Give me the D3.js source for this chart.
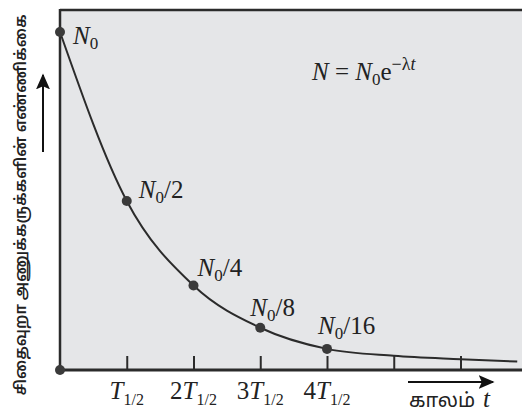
<!DOCTYPE html>
<html><head><meta charset="utf-8">
<script src="https://cdn.jsdelivr.net/npm/d3@7/dist/d3.min.js"></script>
<style>
html,body{margin:0;padding:0;background:#fff;}
svg{display:block;}
.serif{font-family:"Liberation Serif","DejaVu Serif",serif;font-style:italic;fill:#222;}
.tamil{font-family:"Noto Sans Tamil","Noto Sans","DejaVu Sans",sans-serif;fill:#222;}
</style></head>
<body>
<svg id="c" width="522" height="417"></svg>
<script>
// half-lives elapsed (x) and fraction remaining (y)
const curveT = [0, 1, 2, 3, 4, 5, 6, 6.85];
const curveN = [1, 0.5, 0.25, 0.125, 0.0625, 0.042, 0.032, 0.025];
const pointT = [0, 1, 2, 3, 4];
const pointN = [1, 0.5, 0.25, 0.125, 0.0625];
const pointLabels = [["N","0",""],["N","0","/2"],["N","0","/4"],["N","0","/8"],["N","0","/16"]];
const tickVals = [1, 2, 3, 4, 5, 6];
const tickLabels = ["", "2", "3", "4", "", ""];
const tickShown = [true, true, true, true, false, false];
const yTitle = "சிதைவுறா அணுக்கருக்களின் எண்ணிக்கை";
const xTitle = "காலம்";

const svg = d3.select("#c");
const x = d3.scaleLinear().domain([0, 4]).range([60, 327]);
const y = d3.scaleLinear().domain([0, 1]).range([370, 32]);
const ink = "#2b2b2b";

// plot background
svg.append("rect").attr("x", 60).attr("y", 10).attr("width", 462).attr("height", 360).attr("fill", "#e5e6e8");

// curve
const line = d3.line().x((d,i)=>x(curveT[i])).y((d,i)=>y(curveN[i])).curve(d3.curveMonotoneX);
svg.append("path").datum(curveN).attr("d", line).attr("fill","none").attr("stroke", ink).attr("stroke-width", 2);

// axes frame
svg.append("line").attr("x1",60).attr("y1",10).attr("x2",522).attr("y2",10).attr("stroke",ink).attr("stroke-width",2.5);
svg.append("line").attr("x1",60).attr("y1",9).attr("x2",60).attr("y2",371).attr("stroke",ink).attr("stroke-width",2.5);

const xAxis = d3.axisBottom(x).tickValues(tickVals).tickSize(-14).tickFormat("");
const gx = svg.append("g").attr("transform","translate(0,370)").call(xAxis);
gx.select(".domain").remove();
gx.selectAll(".tick line").attr("stroke", ink).attr("stroke-width", 2);
svg.append("line").attr("x1",60).attr("y1",370).attr("x2",522).attr("y2",370).attr("stroke",ink).attr("stroke-width",3);

// tick labels
tickVals.forEach((v,i)=>{
  if(!tickShown[i]) return;
  const t = svg.append("text").attr("class","serif").attr("x", x(v)).attr("y", 399)
    .attr("text-anchor","middle").style("font-size","25px");
  if(tickLabels[i]) t.append("tspan").style("font-style","normal").text(tickLabels[i]);
  t.append("tspan").text("T");
  t.append("tspan").attr("dy", 6).style("font-size","16px").style("font-style","normal").text("1/2");
});

// points
svg.selectAll("circle.pt").data(pointN).enter().append("circle").attr("class","pt")
  .attr("cx",(d,i)=>x(pointT[i])).attr("cy",d=>y(d)).attr("r",5).attr("fill","#3a3a3a");
svg.append("circle").attr("cx",x(0)).attr("cy",y(0)).attr("r",5).attr("fill","#3a3a3a");

// point labels
const labOff = [[13,12],[12,-3],[4,-10],[-10,-12],[-9,-15]];
pointN.forEach((d,i)=>{
  const t = svg.append("text").attr("class","serif").attr("x", x(pointT[i])+labOff[i][0]).attr("y", y(d)+labOff[i][1]).style("font-size","25px");
  t.append("tspan").text(pointLabels[i][0]);
  t.append("tspan").attr("dy",5).style("font-size","17px").style("font-style","normal").text(pointLabels[i][1]);
  if(pointLabels[i][2]) t.append("tspan").attr("dy",-5).style("font-style","normal").text(pointLabels[i][2]);
});

// equation
const eq = svg.append("text").attr("class","serif").attr("x",312).attr("y",80).style("font-size","25px");
eq.append("tspan").text("N");
eq.append("tspan").style("font-style","normal").text(" = ");
eq.append("tspan").text("N");
eq.append("tspan").attr("dy",5).style("font-size","17px").style("font-style","normal").text("0");
eq.append("tspan").attr("dy",-5).style("font-style","normal").text("e");
eq.append("tspan").attr("dy",-10).style("font-size","18px").style("font-style","normal").text("−λ");
eq.append("tspan").style("font-size","18px").text("t");

// arrows
const defs = svg.append("defs");
defs.append("marker").attr("id","ah").attr("viewBox","0 0 10 10").attr("refX",9).attr("refY",5)
  .attr("markerWidth",16).attr("markerHeight",14).attr("markerUnits","userSpaceOnUse").attr("orient","auto")
  .attr("preserveAspectRatio","none")
  .append("path").attr("d","M0,0 L10,5 L0,10 L2,5 Z").attr("fill","#111");
svg.append("line").attr("x1",43).attr("y1",152).attr("x2",43).attr("y2",75).attr("stroke","#111").attr("stroke-width",2).attr("marker-end","url(#ah)");
svg.append("line").attr("x1",408).attr("y1",382).attr("x2",493).attr("y2",382).attr("stroke","#111").attr("stroke-width",2).attr("marker-end","url(#ah)");

// axis titles
const xt = svg.append("text").attr("x",409).attr("y",407);
xt.append("tspan").attr("class","tamil").style("font-size","20px").text(xTitle);
xt.append("tspan").attr("class","serif").attr("dx",8).style("font-size","25px").text("t");

svg.append("text").attr("class","tamil").attr("transform","translate(26,205) rotate(-90)")
  .attr("text-anchor","middle").style("font-size","15.5px").style("font-weight","600").text(yTitle);
</script>
</body></html>
